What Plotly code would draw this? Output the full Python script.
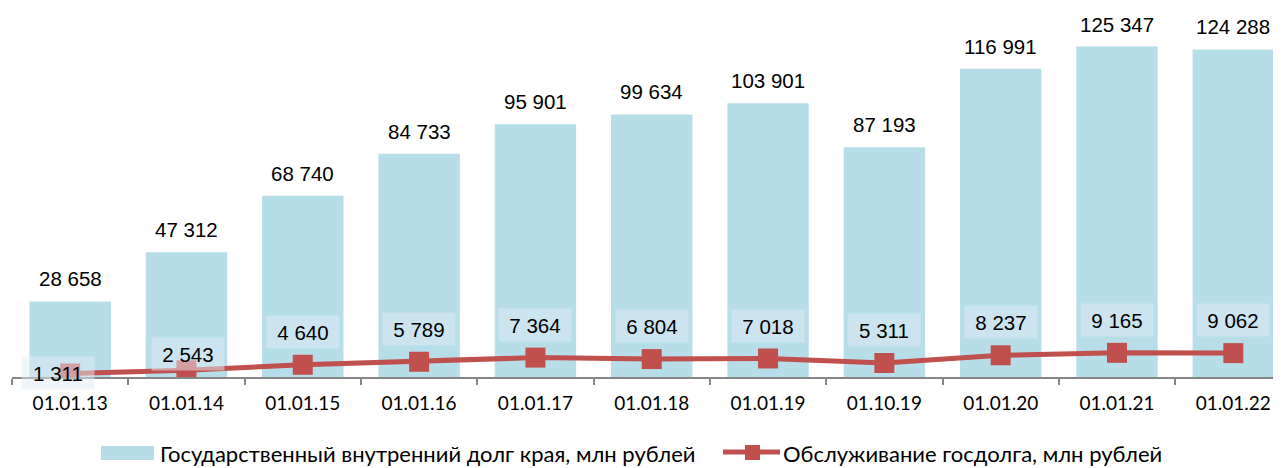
import plotly.graph_objects as go

categories = ["01.01.13", "01.01.14", "01.01.15", "01.01.16", "01.01.17", "01.01.18",
              "01.01.19", "01.10.19", "01.01.20", "01.01.21", "01.01.22"]
debt = [28658, 47312, 68740, 84733, 95901, 99634, 103901, 87193, 116991, 125347, 124288]
service = [1311, 2543, 4640, 5789, 7364, 6804, 7018, 5311, 8237, 9165, 9062]
bar_name = "Государственный внутренний долг края, млн рублей"
line_name = "Обслуживание госдолга, млн рублей"

BAR_COLOR = "#b7dde8"
LINE_COLOR = "#c0504d"
OFF = 8  # browser default body margin
W, H = 1281 - OFF, 468 - OFF
ML, MR, MT, MB = 12 - OFF, 0, 8 - OFF, 91
PW, PH = W - ML - MR, H - MT - MB
LEG_UP = 6  # lift legend so text is not clipped


def fmt(v):
    return f"{v:,}".replace(",", " ")


def px_x(x):
    return (x - OFF - ML) / PW


def px_y(y):
    return (H - MB - (y - LEG_UP - OFF)) / PH


fig = go.Figure()
fig.add_trace(go.Bar(x=categories, y=debt, marker=dict(color=BAR_COLOR, line=dict(width=0)),
                     name=bar_name, showlegend=False, hoverinfo="skip"))
fig.add_trace(go.Scatter(x=categories, y=service, mode="lines+markers", name=line_name,
                         line=dict(color=LINE_COLOR, width=5),
                         marker=dict(symbol="square", size=20, color=LINE_COLOR),
                         showlegend=False, hoverinfo="skip"))

annotations = []
for c, v in zip(categories, debt):
    annotations.append(dict(x=c, y=v, text=fmt(v), showarrow=False, yanchor="bottom",
                            yshift=9, font=dict(family="Liberation Sans, Arial", size=20.5, color="#000")))

# label offsets (pixels) for service labels
label_dx = [-12, 2] + [0] * 9
label_dy = [1, 16] + [33] * 9
for c, v, dx, dy in zip(categories, service, label_dx, label_dy):
    annotations.append(dict(x=c, y=v, text=fmt(v), showarrow=False, yanchor="middle",
                            xshift=dx, yshift=dy, width=70, height=30,
                            bgcolor="rgba(225,236,245,0.5)",
                            font=dict(family="Liberation Sans, Arial", size=20.5, color="#000")))

# manual legend
leg_font = dict(family="Lato, Open Sans, sans-serif", size=22, color="#000")
annotations.append(dict(xref="paper", yref="paper", x=px_x(159), y=px_y(445), text=bar_name,
                        showarrow=False, xanchor="left", yanchor="top", borderpad=0, font=leg_font))
annotations.append(dict(xref="paper", yref="paper", x=px_x(782), y=px_y(445), text=line_name,
                        showarrow=False, xanchor="left", yanchor="top", borderpad=0, font=leg_font))
shapes = [
    dict(type="rect", xref="paper", yref="paper", x0=px_x(101), x1=px_x(154), y0=px_y(466), y1=px_y(452),
         fillcolor=BAR_COLOR, line=dict(width=0)),
    dict(type="line", xref="paper", yref="paper", x0=px_x(723), x1=px_x(780), y0=px_y(458), y1=px_y(458),
         line=dict(color=LINE_COLOR, width=5)),
    dict(type="rect", xref="paper", yref="paper", x0=px_x(745), x1=px_x(760), y0=px_y(466), y1=px_y(451),
         fillcolor=LINE_COLOR, line=dict(width=0)),
]

fig.update_layout(
    width=W, height=H, margin=dict(l=ML, r=MR, t=MT, b=MB, pad=0),
    paper_bgcolor="white", plot_bgcolor="white",
    bargap=0.3, showlegend=False,
    annotations=annotations, shapes=shapes,
    xaxis=dict(type="category", range=[-0.5, 10.41], showline=True, linecolor="#868686", linewidth=1.5,
               ticks="outside", tickson="boundaries", ticklen=6, tickcolor="#868686", tickwidth=1.5,
               showgrid=False, ticklabelstandoff=8,
               tickfont=dict(family="Lato, Open Sans, sans-serif", size=19, color="#000")),
    yaxis=dict(visible=False, range=[0, 140000], showgrid=False, zeroline=False),
)

fig.write_html("out.html")
